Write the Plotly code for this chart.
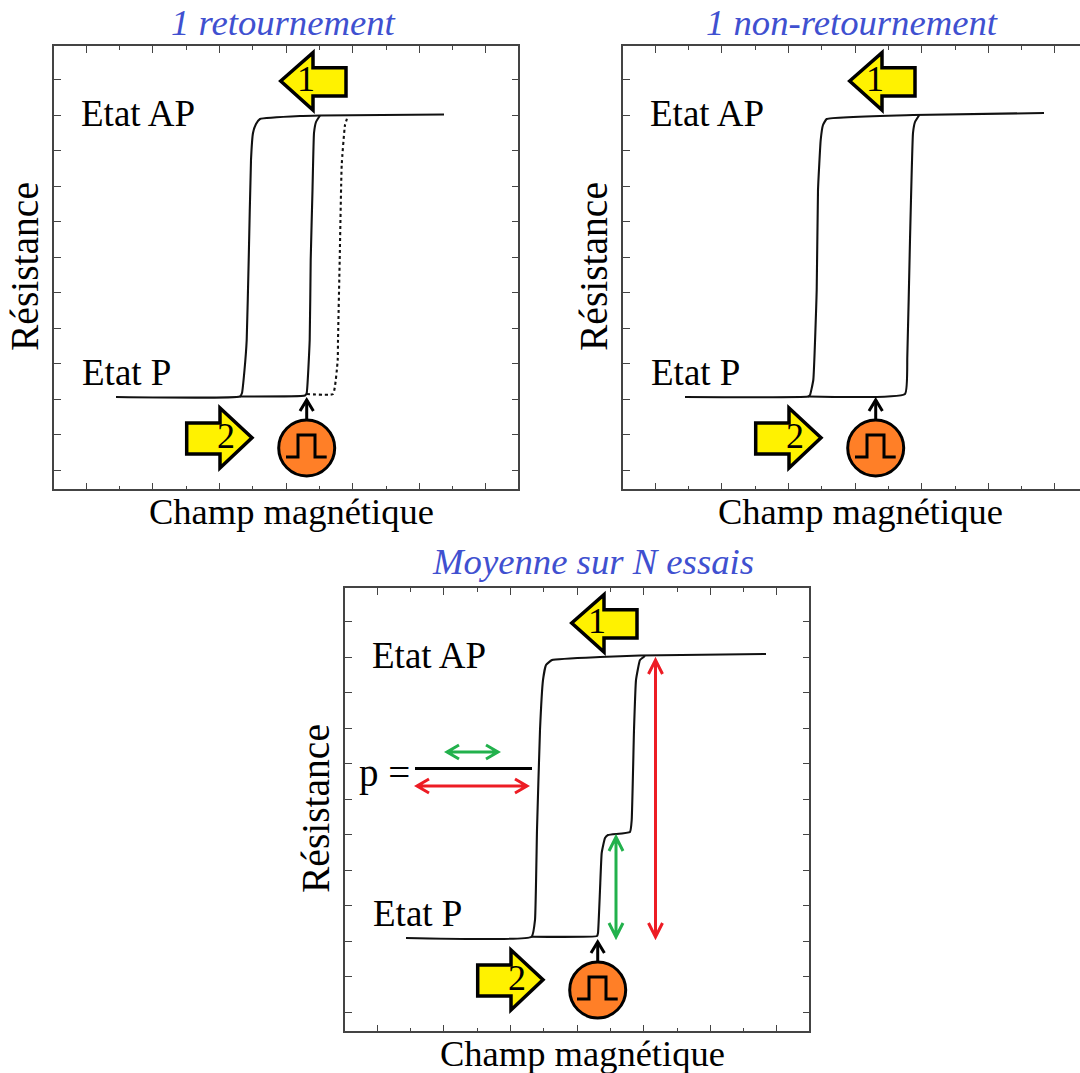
import plotly.graph_objects as go

W, H = 1080, 1073
PANEL_W, PANEL_H = 466, 445
ORIGINS = [(53, 490), (622, 490), (344, 1032)]  # left, bottom of each panel in px
INSET = 0.75

TITLES = ["1 retournement", "1 non-retournement", "Moyenne sur N essais"]
X_LABEL = "Champ magnétique"
Y_LABEL = "Résistance"
STATE_AP = "Etat AP"
STATE_P = "Etat P"

# Field / resistance readings, in axis units
p1_first_x = [63, 187, 189, 191.5, 193.7, 195.7, 198, 200, 203, 207, 247, 267, 391]
p1_first_y = [93, 93.5, 97, 120, 150, 230, 330, 357, 366, 371, 374, 374.5, 375.5]
p1_second_x = [187, 252, 253.7, 256.7, 257.7, 259.5, 261, 263, 267]
p1_second_y = [93.5, 94.5, 97, 150, 230, 300, 357, 368, 374.5]
p1_dotted_x = [253.7, 280, 284.7, 285, 286.7, 288.7, 292, 295]
p1_dotted_y = [96, 96, 130, 150, 230, 325, 365, 374.5]

p2_first_x = [63, 186, 188, 191.3, 194.7, 196, 198.7, 201, 204.7, 291, 422]
p2_first_y = [93, 93.5, 95, 110, 200, 300, 350, 365, 371, 375, 377]
p2_second_x = [186, 283, 285.3, 288, 291, 293, 297.3]
p2_second_y = [93.5, 96, 133, 250, 357, 368, 375]

p3_first_x = [62, 187.7, 191, 193, 196, 199, 202, 208, 256, 296, 422]
p3_first_y = [94, 95.3, 112, 202, 302, 352, 367, 372, 375, 376.5, 378]
p3_second_x = [187.7, 253, 254, 256, 257.7, 261, 264, 286, 287.7, 290, 292, 296, 301]
p3_second_y = [95.3, 96, 99, 142, 179, 194, 197, 200, 212, 302, 352, 372, 376]

CURVES = [
    [(p1_first_x, p1_first_y, "solid"), (p1_second_x, p1_second_y, "solid"), (p1_dotted_x, p1_dotted_y, "dot")],
    [(p2_first_x, p2_first_y, "solid"), (p2_second_x, p2_second_y, "solid")],
    [(p3_first_x, p3_first_y, "solid"), (p3_second_x, p3_second_y, "solid")],
]

# Decoration geometry, in axis units
ARROW1_X = [227.7, 260, 260, 293, 293, 260, 260]
ARROW1_Y = [409, 437.3, 422.3, 422.3, 394, 394, 380]
ARROW2_X = [133.7, 167, 167, 199, 167, 167, 133.7]
ARROW2_Y = [67, 67, 82, 52.3, 22, 36, 36]
PULSE_X = [233, 245, 245, 262, 262, 273.7]
PULSE_Y = [33, 33, 55, 55, 33, 33]
CIRCLE = (253.7, 42, 28)
KICK_STEM_X, KICK_STEM_Y = [253.7, 253.7], [70, 90]
KICK_HEAD_X, KICK_HEAD_Y = [247, 253.7, 260.4], [79, 90, 79]
P_BAR_X, P_BAR_Y = [71, 188], [263.5, 263.5]

def path(xs, ys, close=False):
    s = "M " + " L ".join(f"{x},{y}" for x, y in zip(xs, ys))
    return s + (" Z" if close else "")

fig = go.Figure()
ax_common = dict(showgrid=False, zeroline=False, showticklabels=False, showline=True,
                 linecolor="#444", linewidth=1.5, ticks="inside", tickcolor="#444", tickwidth=1.2)

for i, (ox, oy) in enumerate(ORIGINS):
    n = "" if i == 0 else str(i + 1)
    x_end = min(ox + PANEL_W, W)
    x_hi = x_end - ox - (INSET if i != 1 else 0)
    fig.update_layout({
        f"xaxis{n}": dict(ax_common, domain=[(ox + INSET) / W, (ox + x_hi) / W], range=[INSET, x_hi], fixedrange=True,
                          anchor=f"y{n}", mirror="allticks", tickmode="linear", tick0=33.3, dtick=66.6, ticklen=7,
                          minor=dict(ticks="inside", tick0=33.3, dtick=33.3, ticklen=4, tickcolor="#444", tickwidth=1.2)),
        f"yaxis{n}": dict(ax_common, domain=[(H - oy + INSET) / H, (H - oy + PANEL_H - INSET) / H],
                          range=[INSET, PANEL_H - INSET], fixedrange=True,
                          anchor=f"x{n}", mirror=("allticks" if i != 1 else False), tickmode="linear",
                          tick0=19.5, dtick=35.55, ticklen=7),
    })
    xa, ya = f"x{n}", f"y{n}"
    for cx, cy, dash in CURVES[i]:
        fig.add_trace(go.Scatter(x=cx, y=cy, mode="lines", xaxis=xa, yaxis=ya, showlegend=False,
                                 line=dict(color="#111", width=2.1, dash=dash, shape="spline", smoothing=0.35)))

    def shp(xs, ys, close=False, **kw):
        fig.add_shape(type="path", xref=xa, yref=ya, path=path(xs, ys, close), layer="above", **kw)

    black3 = dict(color="black", width=3)
    shp(ARROW1_X, ARROW1_Y, True, fillcolor="#FFF200", line=dict(color="black", width=3.5))
    shp(ARROW2_X, ARROW2_Y, True, fillcolor="#FFF200", line=dict(color="black", width=3.5))
    cx, cy, r = CIRCLE
    fig.add_shape(type="circle", xref=xa, yref=ya, x0=cx - r, x1=cx + r, y0=cy - r, y1=cy + r,
                  fillcolor="#FF7F27", line=black3, layer="above")
    shp(PULSE_X, PULSE_Y, line=black3)
    shp(KICK_STEM_X, KICK_STEM_Y, line=black3)
    shp(KICK_HEAD_X, KICK_HEAD_Y, line=black3)

    def txt(t, x, y, size=37, color="black", angle=0, italic=False):
        fig.add_annotation(text=t, xref="paper", yref="paper", x=(ox + x) / W, y=(H - oy + y) / H,
                           xanchor="center", yanchor="middle", showarrow=False, textangle=angle,
                           font=dict(family="Liberation Serif", size=size, color=color,
                                     style="italic" if italic else "normal"))

    txt(STATE_AP, 84.5, 377)
    txt(STATE_P, 73, 118)
    txt("1", 253, 411, size=36)
    txt("2", 172.5, 54, size=36)
    txt(X_LABEL, 238, -21, size=36.5)
    txt(Y_LABEL, -28, 223, size=39.5, angle=-90)
    txt(TITLES[i], 230 if i < 2 else 249, 468 if i < 2 else 471, size=36.7, color="#4050D0", italic=True)

# Third panel: the probability construction
GREEN, RED = "#22B14C", "#ED1C24"
def dbl_h(x0, x1, y, c, h=12, v=7):
    fig.add_shape(type="path", xref="x3", yref="y3", layer="above", line=dict(color=c, width=3),
                  path=f"M {x0+h},{y+v} L {x0},{y} L {x0+h},{y-v} M {x0},{y} L {x1},{y} M {x1-h},{y+v} L {x1},{y} L {x1-h},{y-v}")
def dbl_v(x, y0, y1, c, h=14, v=7):
    fig.add_shape(type="path", xref="x3", yref="y3", layer="above", line=dict(color=c, width=3),
                  path=f"M {x-v},{y0+h} L {x},{y0} L {x+v},{y0+h} M {x},{y0} L {x},{y1} M {x-v},{y1-h} L {x},{y1} L {x+v},{y1-h}")

fig.add_shape(type="path", xref="x3", yref="y3", layer="above", path=path(P_BAR_X, P_BAR_Y), line=dict(color="black", width=3))
dbl_h(103, 154, 280, GREEN)
dbl_h(73, 183, 246, RED)
dbl_v(272, 95, 195, GREEN)
dbl_v(311.5, 95, 372, RED)
fig.add_annotation(text="p =", xref="paper", yref="paper", x=(344 + 40) / W, y=(H - 1032 + 259) / H,
                   xanchor="center", yanchor="middle", showarrow=False,
                   font=dict(family="Liberation Serif", size=39, color="black"))

fig.update_layout(width=W, height=H, margin=dict(l=0, r=0, t=0, b=0), autosize=False,
                  paper_bgcolor="white", plot_bgcolor="white", showlegend=False)
fig.write_html("out.html", config=dict(displayModeBar=False, responsive=False),
               post_script="document.body.style.margin='0';document.documentElement.style.overflow='hidden';")
